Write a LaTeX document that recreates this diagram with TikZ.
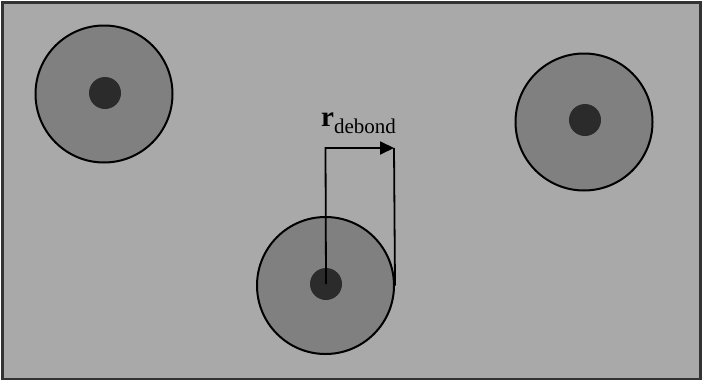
\documentclass[tikz,border=0pt]{standalone}
\usepackage{fontspec}
\setmainfont{Liberation Serif}
\usetikzlibrary{arrows.meta}
\definecolor{bg}{gray}{0.663}
\definecolor{shell}{gray}{0.50}
\definecolor{core}{gray}{0.17}
\definecolor{frame}{gray}{0.20}
\tikzset{
  particle/.style={circle, draw=black, line width=2pt, fill=shell, inner sep=0pt, minimum size=137pt},
  corebox/.style={circle, fill=core, inner sep=0pt, minimum size=32pt},
  dim/.style={line width=1.8pt, black},
}
\begin{document}
\begin{tikzpicture}[x=1pt,y=-1pt]
\useasboundingbox (0,0) rectangle (703,383);
\fill[white] (0,0) rectangle (703,383);
\draw[frame, fill=bg, line width=2.5pt] (2.5,2.5) rectangle (700.5,379);
\node[particle] (p1) at (104,94) {};
\node[corebox] (c1) at (105,93) {};
\node[particle] (p2) at (584,122) {};
\node[corebox] (c2) at (585,120) {};
\node[particle] (p3) at (325.5,285.5) {};
\node[corebox] (c3) at (326,284) {};
\coordinate (tl) at (325.5,148);
\coordinate (tr) at (394,148);
\draw[dim, -{Triangle[length=14pt,width=13pt]}] (c3.center) -- (tl) -- (tr);
\draw[dim] (tr) -- (p3.east);
\node[anchor=base west, inner sep=0pt] (lab) at (321,126)
  {\fontsize{29}{29}\selectfont\bfseries r\mdseries\raisebox{-7.5pt}{\fontsize{21}{21}\selectfont debond}};
\end{tikzpicture}
\end{document}
